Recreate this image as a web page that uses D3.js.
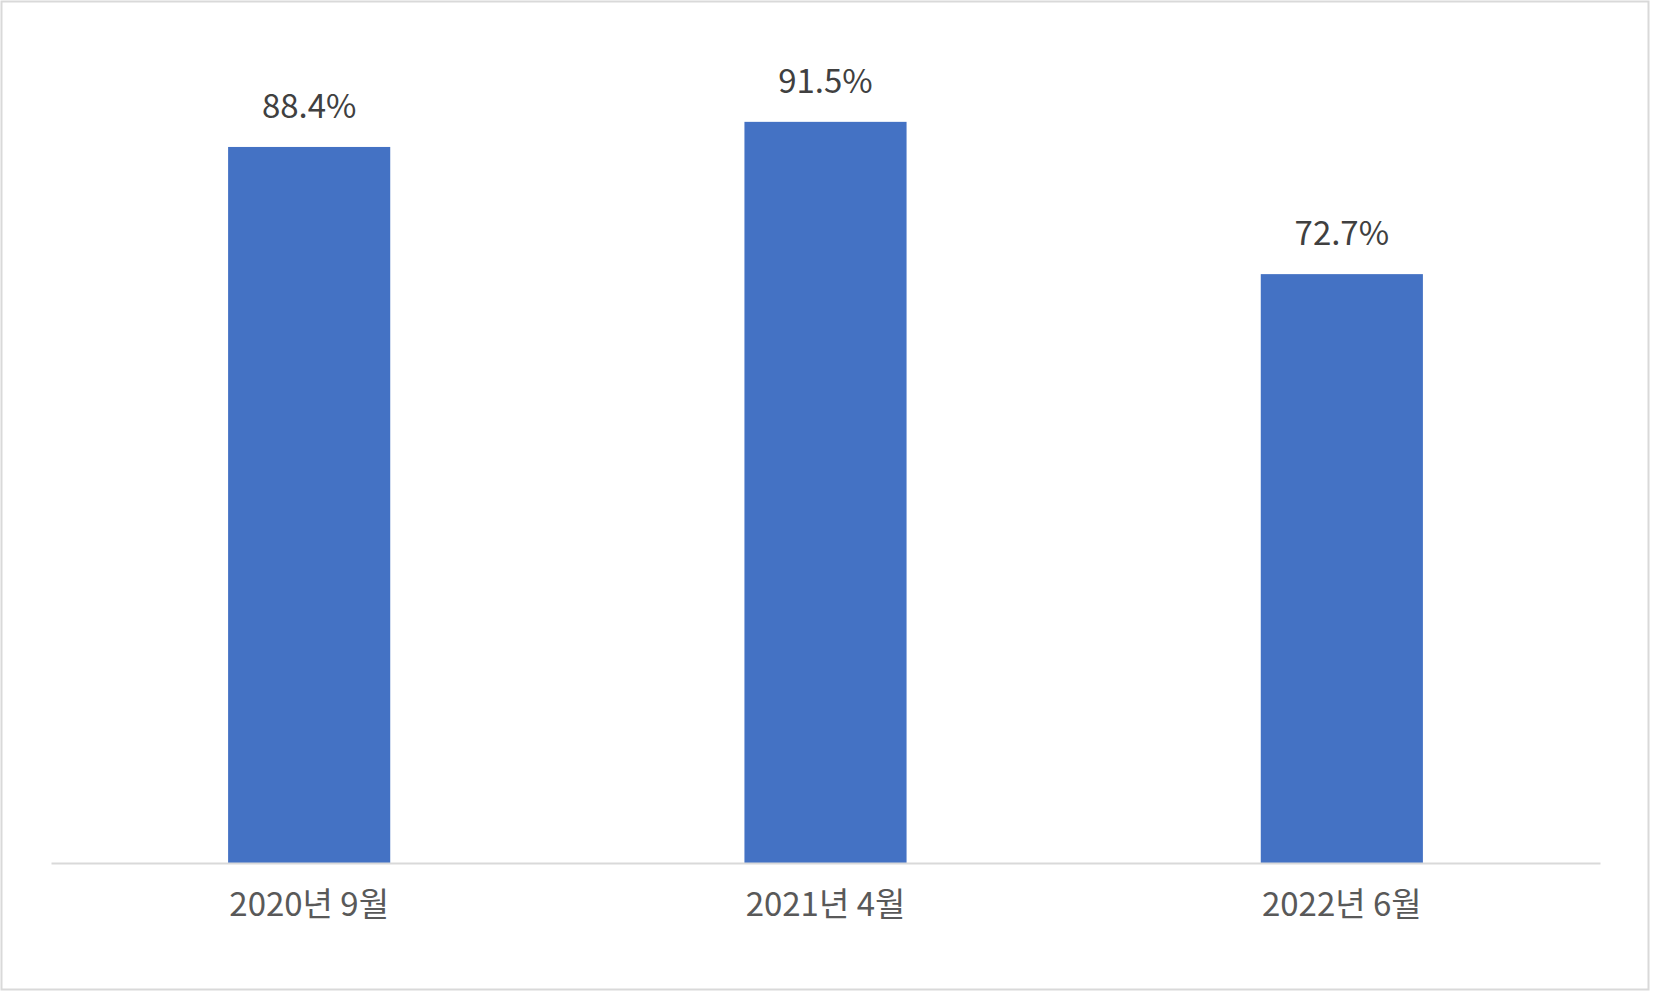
<!DOCTYPE html>
<html><head><meta charset="utf-8">
<script src="https://cdn.jsdelivr.net/npm/d3@7"></script>
<style>body{margin:0;background:#fff}</style></head>
<body><svg id="c" width="1653" height="993"></svg>
<script>
const categories = ["2020년 9월", "2021년 4월", "2022년 6월"];
const values = [88.4, 91.5, 72.7];

const svg = d3.select("#c");
svg.append("rect").attr("x",1.5).attr("y",1.5).attr("width",1647).attr("height",988)
  .attr("fill","#fff").attr("stroke","#d9d9d9").attr("stroke-width",2);
const x = d3.scaleBand().domain(categories).range([51,1600]).padding(0);
const y = d3.scaleLinear().domain([0,100]).range([863,53]);
const bw = x.bandwidth()*0.314;
const g = svg.append("g");
g.selectAll("rect.bar").data(values).join("rect").attr("class","bar")
  .attr("x",(d,i)=>x(categories[i])+x.bandwidth()/2-bw/2)
  .attr("y",d=>y(d)).attr("width",bw).attr("height",d=>y(0)-y(d)).attr("fill","#4472c4");
g.selectAll("text.v").data(values).join("text").attr("class","v")
  .attr("x",(d,i)=>x(categories[i])+x.bandwidth()/2).attr("y",d=>y(d)-29)
  .attr("text-anchor","middle").attr("font-family","'Noto Sans CJK KR','Noto Sans',sans-serif")
  .attr("font-size",33).attr("fill","#404040").text(d=>d.toFixed(1)+"%");
const ax = svg.append("g").attr("transform","translate(0,863)").call(d3.axisBottom(x).tickSize(0).tickPadding(30));
ax.select(".domain").attr("stroke","#d9d9d9").attr("stroke-width",2);
ax.selectAll("text").attr("font-family","'Noto Sans CJK KR','Noto Sans',sans-serif")
  .attr("font-size",33).attr("fill","#595959");
</script></body></html>
